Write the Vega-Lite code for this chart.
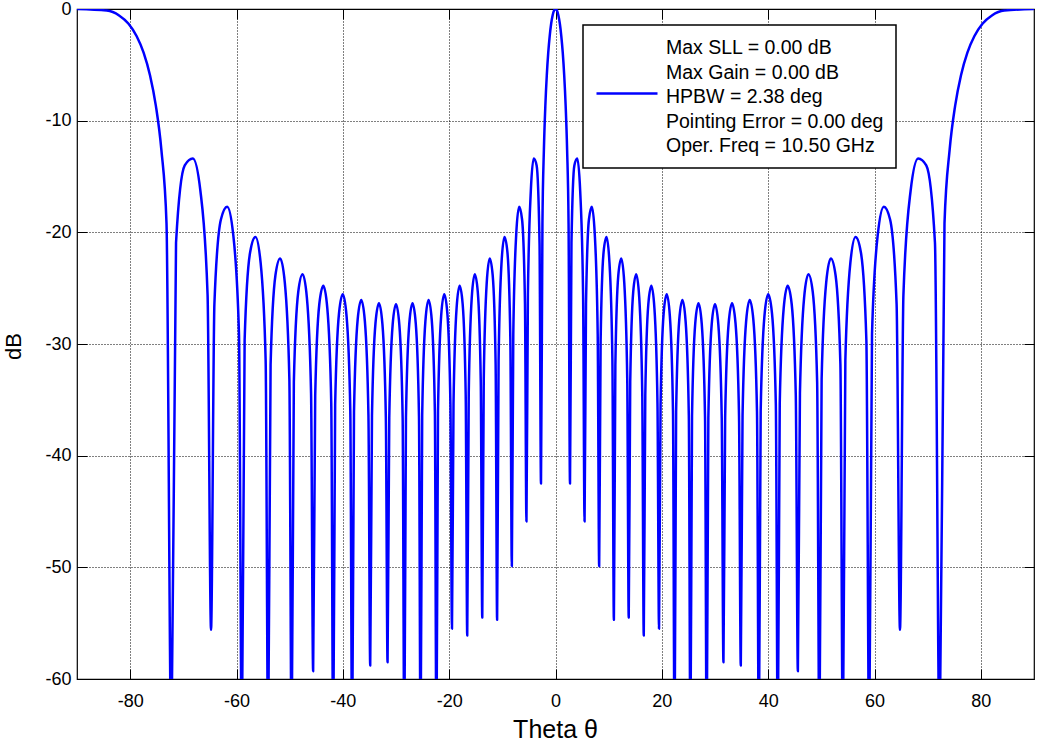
{
  "$schema": "https://vega.github.io/schema/vega-lite/v6.json",
  "width": 957,
  "height": 670,
  "autosize": {"type": "none"},
  "padding": {"left": 77, "top": 9, "right": 4, "bottom": 65},
  "background": "white",
  "config": {
    "font": "Liberation Sans",
    "view": {"stroke": "#000", "strokeWidth": 1.2},
    "legend": {"strokeWidth": 1.5}
  },
  "data": {"values": [
    {"t":-90,"db":0},{"t":-84.406,"db":-0.14},{"t":-82.086,"db":-0.58},{"t":-80.304,"db":-1.32},{"t":-78.799,"db":-2.42},{"t":-77.472,"db":-3.91},{"t":-76.271,"db":-5.93},{"t":-75.165,"db":-8.67},{"t":-74.134,"db":-12.6},{"t":-73.165,"db":-19.2},{"t":-72.247,"db":-66},
    {"t":-71.373,"db":-20.93},{"t":-69.735,"db":-14.01},{"t":-68.214,"db":-13.39},{"t":-66.788,"db":-16.3},{"t":-65.439,"db":-25.6},{"t":-64.791,"db":-55.6},
    {"t":-64.158,"db":-26.44},{"t":-62.933,"db":-18.85},{"t":-61.757,"db":-17.7},{"t":-60.625,"db":-20.17},{"t":-59.531,"db":-29.12},{"t":-58.997,"db":-66},
    {"t":-58.471,"db":-29.66},{"t":-57.443,"db":-21.8},{"t":-56.442,"db":-20.42},{"t":-55.468,"db":-22.7},{"t":-54.517,"db":-31.47},{"t":-54.049,"db":-66},
    {"t":-53.587,"db":-31.85},{"t":-52.677,"db":-23.84},{"t":-51.787,"db":-22.34},{"t":-50.913,"db":-24.5},{"t":-50.056,"db":-33.15},{"t":-49.633,"db":-66},
    {"t":-49.213,"db":-33.43},{"t":-48.385,"db":-25.34},{"t":-47.57,"db":-23.75},{"t":-46.767,"db":-25.82},{"t":-45.976,"db":-34.4},{"t":-45.585,"db":-59.3},
    {"t":-45.196,"db":-34.61},{"t":-44.427,"db":-26.44},{"t":-43.668,"db":-24.79},{"t":-42.918,"db":-26.8},{"t":-42.178,"db":-35.32},{"t":-41.81,"db":-66},
    {"t":-41.445,"db":-35.47},{"t":-40.721,"db":-27.25},{"t":-40.005,"db":-25.54},{"t":-39.297,"db":-27.5},{"t":-38.595,"db":-35.97},{"t":-38.247,"db":-66},
    {"t":-37.9,"db":-36.07},{"t":-37.211,"db":-27.81},{"t":-36.529,"db":-26.05},{"t":-35.853,"db":-27.97},{"t":-35.183,"db":-36.39},{"t":-34.85,"db":-58.8},
    {"t":-34.518,"db":-36.45},{"t":-33.859,"db":-28.14},{"t":-33.204,"db":-26.35},{"t":-32.554,"db":-28.22},{"t":-31.909,"db":-36.61},{"t":-31.588,"db":-58.5},
    {"t":-31.268,"db":-36.63},{"t":-30.632,"db":-28.28},{"t":-30,"db":-26.44},{"t":-29.372,"db":-28.28},{"t":-28.748,"db":-36.63},{"t":-28.437,"db":-66},
    {"t":-28.127,"db":-36.61},{"t":-27.51,"db":-28.22},{"t":-26.897,"db":-26.35},{"t":-26.286,"db":-28.14},{"t":-25.679,"db":-36.45},{"t":-25.377,"db":-66},
    {"t":-25.075,"db":-36.39},{"t":-24.474,"db":-27.97},{"t":-23.876,"db":-26.05},{"t":-23.281,"db":-27.81},{"t":-22.688,"db":-36.07},{"t":-22.393,"db":-66},
    {"t":-22.098,"db":-35.97},{"t":-21.51,"db":-27.5},{"t":-20.925,"db":-25.54},{"t":-20.341,"db":-27.25},{"t":-19.761,"db":-35.47},{"t":-19.471,"db":-55.5},
    {"t":-19.182,"db":-35.32},{"t":-18.605,"db":-26.8},{"t":-18.03,"db":-24.79},{"t":-17.458,"db":-26.44},{"t":-16.887,"db":-34.61},{"t":-16.602,"db":-56.1},
    {"t":-16.317,"db":-34.4},{"t":-15.749,"db":-25.82},{"t":-15.183,"db":-23.75},{"t":-14.618,"db":-25.34},{"t":-14.055,"db":-33.43},{"t":-13.774,"db":-54.5},
    {"t":-13.494,"db":-33.15},{"t":-12.933,"db":-24.5},{"t":-12.374,"db":-22.34},{"t":-11.816,"db":-23.84},{"t":-11.259,"db":-31.85},{"t":-10.981,"db":-54.7},
    {"t":-10.703,"db":-31.47},{"t":-10.148,"db":-22.7},{"t":-9.594,"db":-20.42},{"t":-9.041,"db":-21.8},{"t":-8.489,"db":-29.66},{"t":-8.213,"db":-49.9},
    {"t":-7.938,"db":-29.12},{"t":-7.387,"db":-20.17},{"t":-6.837,"db":-17.7},{"t":-6.288,"db":-18.85},{"t":-5.739,"db":-26.44},{"t":-5.465,"db":-45.9},
    {"t":-5.191,"db":-25.6},{"t":-4.643,"db":-16.3},{"t":-4.096,"db":-13.39},{"t":-3.549,"db":-14.01},{"t":-3.003,"db":-20.93},{"t":-2.729,"db":-42.5},
    {"t":-2.456,"db":-19.2},{"t":-2.183,"db":-12.6},{"t":-1.91,"db":-8.67},{"t":-1.637,"db":-5.93},{"t":-1.364,"db":-3.91},{"t":-1.091,"db":-2.42},{"t":-0.819,"db":-1.32},{"t":-0.546,"db":-0.58},{"t":-0.273,"db":-0.14},
    {"t":0,"db":0},
    {"t":0.273,"db":-0.14},{"t":0.546,"db":-0.58},{"t":0.819,"db":-1.32},{"t":1.091,"db":-2.42},{"t":1.364,"db":-3.91},{"t":1.637,"db":-5.93},{"t":1.91,"db":-8.67},{"t":2.183,"db":-12.6},{"t":2.456,"db":-19.2},{"t":2.729,"db":-42.5},
    {"t":3.003,"db":-20.93},{"t":3.549,"db":-14.01},{"t":4.096,"db":-13.39},{"t":4.643,"db":-16.3},{"t":5.191,"db":-25.6},{"t":5.465,"db":-45.9},
    {"t":5.739,"db":-26.44},{"t":6.288,"db":-18.85},{"t":6.837,"db":-17.7},{"t":7.387,"db":-20.17},{"t":7.938,"db":-29.12},{"t":8.213,"db":-49.9},
    {"t":8.489,"db":-29.66},{"t":9.041,"db":-21.8},{"t":9.594,"db":-20.42},{"t":10.148,"db":-22.7},{"t":10.703,"db":-31.47},{"t":10.981,"db":-54.7},
    {"t":11.259,"db":-31.85},{"t":11.816,"db":-23.84},{"t":12.374,"db":-22.34},{"t":12.933,"db":-24.5},{"t":13.494,"db":-33.15},{"t":13.774,"db":-54.5},
    {"t":14.055,"db":-33.43},{"t":14.618,"db":-25.34},{"t":15.183,"db":-23.75},{"t":15.749,"db":-25.82},{"t":16.317,"db":-34.4},{"t":16.602,"db":-56.1},
    {"t":16.887,"db":-34.61},{"t":17.458,"db":-26.44},{"t":18.03,"db":-24.79},{"t":18.605,"db":-26.8},{"t":19.182,"db":-35.32},{"t":19.471,"db":-55.5},
    {"t":19.761,"db":-35.47},{"t":20.341,"db":-27.25},{"t":20.925,"db":-25.54},{"t":21.51,"db":-27.5},{"t":22.098,"db":-35.97},{"t":22.393,"db":-66},
    {"t":22.688,"db":-36.07},{"t":23.281,"db":-27.81},{"t":23.876,"db":-26.05},{"t":24.474,"db":-27.97},{"t":25.075,"db":-36.39},{"t":25.377,"db":-66},
    {"t":25.679,"db":-36.45},{"t":26.286,"db":-28.14},{"t":26.897,"db":-26.35},{"t":27.51,"db":-28.22},{"t":28.127,"db":-36.61},{"t":28.437,"db":-66},
    {"t":28.748,"db":-36.63},{"t":29.372,"db":-28.28},{"t":30,"db":-26.44},{"t":30.632,"db":-28.28},{"t":31.268,"db":-36.63},{"t":31.588,"db":-58.5},
    {"t":31.909,"db":-36.61},{"t":32.554,"db":-28.22},{"t":33.204,"db":-26.35},{"t":33.859,"db":-28.14},{"t":34.518,"db":-36.45},{"t":34.85,"db":-58.8},
    {"t":35.183,"db":-36.39},{"t":35.853,"db":-27.97},{"t":36.529,"db":-26.05},{"t":37.211,"db":-27.81},{"t":37.9,"db":-36.07},{"t":38.247,"db":-66},
    {"t":38.595,"db":-35.97},{"t":39.297,"db":-27.5},{"t":40.005,"db":-25.54},{"t":40.721,"db":-27.25},{"t":41.445,"db":-35.47},{"t":41.81,"db":-66},
    {"t":42.178,"db":-35.32},{"t":42.918,"db":-26.8},{"t":43.668,"db":-24.79},{"t":44.427,"db":-26.44},{"t":45.196,"db":-34.61},{"t":45.585,"db":-59.3},
    {"t":45.976,"db":-34.4},{"t":46.767,"db":-25.82},{"t":47.57,"db":-23.75},{"t":48.385,"db":-25.34},{"t":49.213,"db":-33.43},{"t":49.633,"db":-66},
    {"t":50.056,"db":-33.15},{"t":50.913,"db":-24.5},{"t":51.787,"db":-22.34},{"t":52.677,"db":-23.84},{"t":53.587,"db":-31.85},{"t":54.049,"db":-66},
    {"t":54.517,"db":-31.47},{"t":55.468,"db":-22.7},{"t":56.442,"db":-20.42},{"t":57.443,"db":-21.8},{"t":58.471,"db":-29.66},{"t":58.997,"db":-66},
    {"t":59.531,"db":-29.12},{"t":60.625,"db":-20.17},{"t":61.757,"db":-17.7},{"t":62.933,"db":-18.85},{"t":64.158,"db":-26.44},{"t":64.791,"db":-55.6},
    {"t":65.439,"db":-25.6},{"t":66.788,"db":-16.3},{"t":68.214,"db":-13.39},{"t":69.735,"db":-14.01},{"t":71.373,"db":-20.93},{"t":72.247,"db":-66},
    {"t":73.165,"db":-19.2},{"t":74.134,"db":-12.6},{"t":75.165,"db":-8.67},{"t":76.271,"db":-5.93},{"t":77.472,"db":-3.91},{"t":78.799,"db":-2.42},{"t":80.304,"db":-1.32},{"t":82.086,"db":-0.58},{"t":84.406,"db":-0.14},{"t":90,"db":0}
  ]},
  "resolve": {"axis": {"x": "independent", "y": "independent"}},
  "layer": [
    {
      "mark": {"type": "line", "clip": true, "strokeWidth": 2.5, "interpolate": "monotone", "strokeJoin": "round"},
      "encoding": {
        "x": {
          "field": "t", "type": "quantitative",
          "scale": {"domain": [-90, 90], "nice": false, "zero": false},
          "axis": {
            "values": [-80, -60, -40, -20, 0, 20, 40, 60, 80],
            "labelExpr": "datum.value + ''",
            "grid": true, "gridColor": "#000", "gridDash": [1, 2], "gridOpacity": 1, "gridWidth": 1,
            "domain": false, "tickSize": -10, "tickColor": "#000", "tickWidth": 1,
            "labelFontSize": 18, "labelColor": "#000", "labelPadding": 37, "labelBaseline": "alphabetic",
            "labelFlush": false, "labelOverlap": false,
            "title": "Theta θ", "titleFontSize": 25, "titleFontWeight": "normal", "titleColor": "#000",
            "titleX": 478, "titleY": 58, "titleBaseline": "alphabetic", "titleAlign": "center"
          }
        },
        "y": {
          "field": "db", "type": "quantitative",
          "scale": {"domain": [-60, 0], "nice": false, "zero": false},
          "axis": {
            "values": [-60, -50, -40, -30, -20, -10, 0],
            "labelExpr": "datum.value + ''",
            "grid": true, "gridColor": "#000", "gridDash": [1, 2], "gridOpacity": 1, "gridWidth": 1,
            "domain": false, "tickSize": -10, "tickColor": "#000", "tickWidth": 1,
            "labelFontSize": 18, "labelColor": "#000", "labelPadding": 16,
            "labelOverlap": false, "labelFlush": false,
            "title": "dB", "titleFontSize": 22, "titleFontWeight": "normal", "titleColor": "#000",
            "titleX": -57, "titleY": 337, "titleBaseline": "alphabetic", "titleAngle": -90, "titleAlign": "center"
          }
        },
        "color": {
          "datum": "Max SLL = 0.00 dB|Max Gain = 0.00 dB|HPBW = 2.38 deg|Pointing Error = 0.00 deg|Oper. Freq = 10.50 GHz",
          "type": "nominal",
          "scale": {"range": ["#0000ff"]},
          "legend": {
            "orient": "none", "legendX": 506, "legendY": 16,
            "title": null,
            "symbolType": "stroke", "symbolSize": 3721, "symbolStrokeWidth": 2.5,
            "labelFontSize": 19.5, "labelFont": "Liberation Sans", "labelColor": "#000", "labelLimit": 0,
            "labelExpr": "split(datum.label, '|')",
            "labelOffset": 7,
            "strokeColor": "#000", "fillColor": "white", "padding": 12,
            "encode": {
              "labels": {"update": {"lineHeight": {"value": 24.5}, "dy": {"value": -21}}},
              "symbols": {"update": {"y": {"value": 56.5}}}
            }
          }
        }
      }
    },
    {
      "mark": {"type": "line", "opacity": 0},
      "encoding": {
        "x": {
          "field": "t", "type": "quantitative",
          "axis": {"orient": "top", "values": [-80, -60, -40, -20, 0, 20, 40, 60, 80], "labels": false, "grid": false, "domain": false, "tickSize": -10, "tickColor": "#000", "tickWidth": 1, "title": null}
        },
        "y": {
          "field": "db", "type": "quantitative",
          "axis": {"orient": "right", "values": [-60, -50, -40, -30, -20, -10, 0], "labels": false, "grid": false, "domain": false, "tickSize": -10, "tickColor": "#000", "tickWidth": 1, "title": null}
        }
      }
    }
  ]
}
